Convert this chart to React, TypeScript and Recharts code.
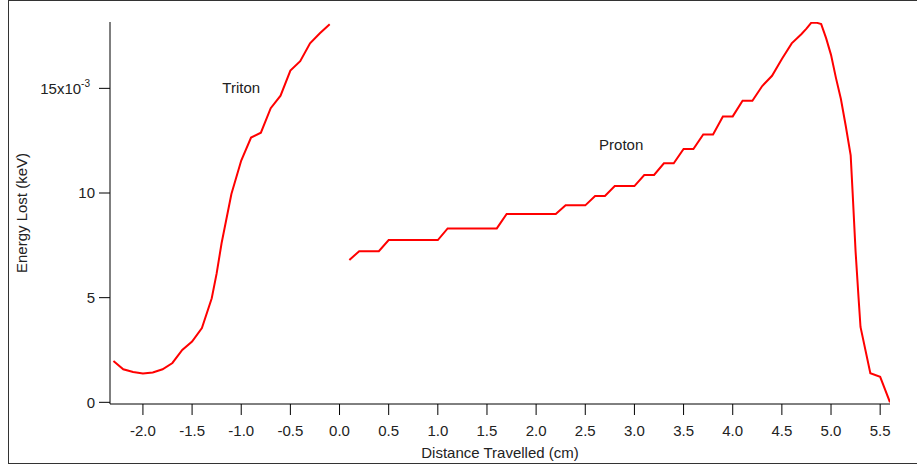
import React from 'react';
import { LineChart, Line, XAxis, YAxis, ReferenceDot, Label } from 'recharts';

// Triton track: distance (cm) vs energy lost (x10^-3 keV)
const tritonX = [-2.3, -2.2, -2.1, -2.0, -1.9, -1.8, -1.7, -1.6, -1.5, -1.4, -1.3, -1.25, -1.2, -1.1, -1.0, -0.9, -0.8, -0.7, -0.6, -0.5, -0.4, -0.3, -0.2, -0.1];
const tritonY = [1.97, 1.58, 1.45, 1.38, 1.43, 1.58, 1.88, 2.5, 2.9, 3.55, 4.97, 6.16, 7.6, 9.95, 11.55, 12.65, 12.88, 14.05, 14.65, 15.85, 16.3, 17.15, 17.63, 18.06];

// Proton track
const protonX = [0.1, 0.2, 0.3, 0.4, 0.5, 0.6, 0.7, 0.8, 0.9, 1.0, 1.1, 1.2, 1.3, 1.4, 1.5, 1.6, 1.7, 1.8, 1.9, 2.0, 2.1, 2.2, 2.3, 2.4, 2.5, 2.6, 2.7, 2.8, 2.9, 3.0, 3.1, 3.2, 3.3, 3.4, 3.5, 3.6, 3.7, 3.8, 3.9, 4.0, 4.1, 4.2, 4.3, 4.4, 4.5, 4.6, 4.7, 4.75, 4.8, 4.85, 4.9, 4.95, 5.0, 5.05, 5.1, 5.15, 5.2, 5.22, 5.25, 5.28, 5.3, 5.4, 5.5, 5.6];
const protonY = [6.8, 7.22, 7.22, 7.22, 7.75, 7.75, 7.75, 7.75, 7.75, 7.75, 8.31, 8.31, 8.31, 8.31, 8.31, 8.31, 9.0, 9.0, 9.0, 9.0, 9.0, 9.0, 9.41, 9.41, 9.41, 9.86, 9.86, 10.33, 10.33, 10.33, 10.86, 10.86, 11.42, 11.42, 12.1, 12.1, 12.8, 12.8, 13.66, 13.66, 14.41, 14.41, 15.11, 15.6, 16.4, 17.15, 17.6, 17.85, 18.14, 18.14, 18.07, 17.4, 16.6, 15.5, 14.5, 13.2, 11.8, 10.0, 7.2, 5.0, 3.6, 1.39, 1.22, 0.0];

const xTicks = [-2.0, -1.5, -1.0, -0.5, 0.0, 0.5, 1.0, 1.5, 2.0, 2.5, 3.0, 3.5, 4.0, 4.5, 5.0, 5.5];
const yTicks = [0, 5, 10, 15];

const xTitle = 'Distance Travelled (cm)';
const yTitle = 'Energy Lost (keV)';
const annotations = [
  { x: -1.0, y: 15.04, text: 'Triton' },
  { x: 2.865, y: 12.32, text: 'Proton' },
];

const tritonData = tritonX.map((x, i) => ({ x, y: tritonY[i] }));
const protonData = protonX.map((x, i) => ({ x, y: protonY[i] }));

const FONT = '"Liberation Sans", Arial, sans-serif';
const TEXT = '#222';

const YTick = (props: any) => {
  const { x, y, payload } = props;
  const v = payload.value;
  if (v === 15) {
    return (
      <text x={x - 5} y={y} dy="0.355em" textAnchor="end" fill={TEXT} fontSize={15} fontFamily={FONT}>
        15x10
        <tspan dy={-7} fontSize={10}>-3</tspan>
      </text>
    );
  }
  return (
    <text x={x} y={y} dy="0.355em" textAnchor="end" fill={TEXT} fontSize={15} fontFamily={FONT}>
      {String(v)}
    </text>
  );
};

export default function App() {
  return (
    <div style={{ position: 'absolute', left: 0, top: 0, width: 917, height: 465, background: '#fff', overflow: 'hidden' }}>
      <div
        style={{
          position: 'absolute',
          left: 8,
          top: 0,
          width: 930,
          height: 462,
          borderLeft: '1px solid #333',
          borderTop: '1px solid #333',
          borderBottom: '1px solid #333',
        }}
      />
      <div style={{ position: 'absolute', left: 0, top: 0 }}>
        <LineChart width={917} height={465} margin={{ top: 22, right: 27, bottom: 6, left: 0 }}>
          <XAxis
            type="number"
            dataKey="x"
            domain={[-2.335, 5.6]}
            allowDataOverflow
            ticks={xTicks}
            tickFormatter={(v: number) => v.toFixed(1)}
            height={55}
            tickSize={11}
            tickMargin={10}
            stroke="#000"
            tick={{ fill: TEXT, fontSize: 15, fontFamily: FONT }}
          >
            <Label value={xTitle} position="insideBottom" offset={1} fill={TEXT} fontSize={15} fontFamily={FONT} />
          </XAxis>
          <YAxis
            type="number"
            domain={[-0.08, 18.17]}
            allowDataOverflow
            ticks={yTicks}
            width={110}
            tickSize={11}
            tickMargin={4}
            stroke="#000"
            tick={<YTick />}
          >
            <Label
              value={yTitle}
              angle={-90}
              position="insideLeft"
              offset={22}
              fill={TEXT}
              fontSize={15}
              fontFamily={FONT}
              style={{ textAnchor: 'middle' }}
            />
          </YAxis>
          <Line data={tritonData} dataKey="y" type="linear" stroke="#ff0000" strokeWidth={2} dot={false} isAnimationActive={false} />
          <Line data={protonData} dataKey="y" type="linear" stroke="#ff0000" strokeWidth={2} dot={false} isAnimationActive={false} />
          {annotations.map((a) => (
            <ReferenceDot
              key={a.text}
              x={a.x}
              y={a.y}
              r={0}
              fill="none"
              stroke="none"
              label={{ value: a.text, position: 'center', fill: TEXT, fontSize: 15, fontFamily: FONT }}
            />
          ))}
        </LineChart>
      </div>
    </div>
  );
}
